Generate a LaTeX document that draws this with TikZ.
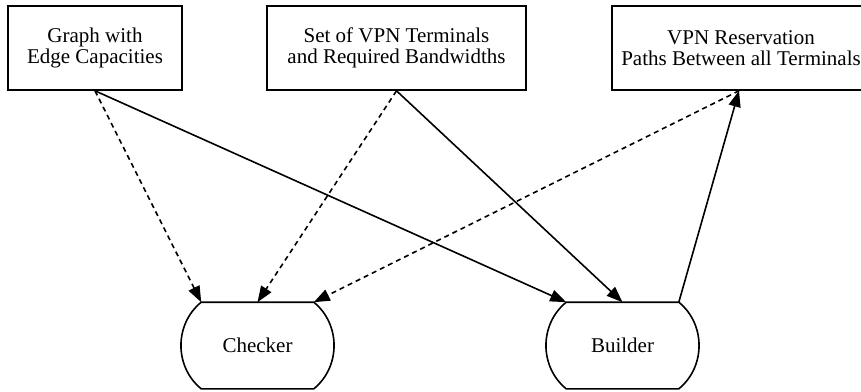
\documentclass[tikz,border=0pt]{standalone}
\usepackage{fontspec}
\setmainfont{Liberation Serif}
\usetikzlibrary{arrows.meta}

\begin{document}
\begin{tikzpicture}[x=1pt, y=-1pt, line width=1.6pt,
    tip/.style={-{Triangle[length=16pt,width=12pt]}},
    checkline/.style={tip, dash pattern=on 5pt off 4pt}]
\tikzset{every node/.style={font=\fontsize{21}{21.5}\selectfont, align=center}}
\tikzset{data/.style={draw, rectangle, minimum height=84pt}}
\tikzset{tool/.style={minimum width=151pt, minimum height=85pt}}
%\tikzset{tool/.style={draw, ellipse,
%                      minimum width=151pt,
%                      minimum height=85pt
%                     }}
\useasboundingbox (0,0) rectangle (861,391);
\node[data, minimum width=174pt] (graph) at (95,48) {Graph with\\Edge Capacities};
\node[data, minimum width=259pt] (vpnset) at (396.5,48) {Set of VPN Terminals\\and Required Bandwidths};
\node[data, minimum width=258pt] (paths) at (741,48) {VPN Reservation\\Paths Between all Terminals};
\node[tool] (checker) at (257.5,345.5) {Checker};
\node[tool] (builder) at (622.5,345.5) {Builder};
% outlines of the two tools
\draw ([xshift=20pt]checker.north west) -- ([xshift=-20pt]checker.north east)
    .. controls ([xshift=7pt,yshift=-22pt]checker.north east) and ([xshift=7pt,yshift=22pt]checker.south east) .. ([xshift=-20pt]checker.south east)
    -- ([xshift=20pt]checker.south west)
    .. controls ([xshift=-7pt,yshift=22pt]checker.south west) and ([xshift=-7pt,yshift=-22pt]checker.north west) .. cycle;
\draw ([xshift=20pt]builder.north west) -- ([xshift=-20pt]builder.north east)
    .. controls ([xshift=7pt,yshift=-22pt]builder.north east) and ([xshift=7pt,yshift=22pt]builder.south east) .. ([xshift=-20pt]builder.south east)
    -- ([xshift=20pt]builder.south west)
    .. controls ([xshift=-7pt,yshift=22pt]builder.south west) and ([xshift=-7pt,yshift=-22pt]builder.north west) .. cycle;
% edges
\draw[checkline] (graph.south) -- ([xshift=20pt]checker.north west);
\draw[checkline] (vpnset.south) -- (checker.north);
\draw[checkline] ([xshift=-2pt]paths.south) -- ([xshift=-20pt]checker.north east);
\draw[tip] (graph.south) -- ([xshift=20pt]builder.north west);
\draw[tip] (vpnset.south) -- (builder.north);
\draw[tip] ([xshift=-20pt]builder.north east) -- ([xshift=-2pt]paths.south);
\end{tikzpicture}
\end{document}
